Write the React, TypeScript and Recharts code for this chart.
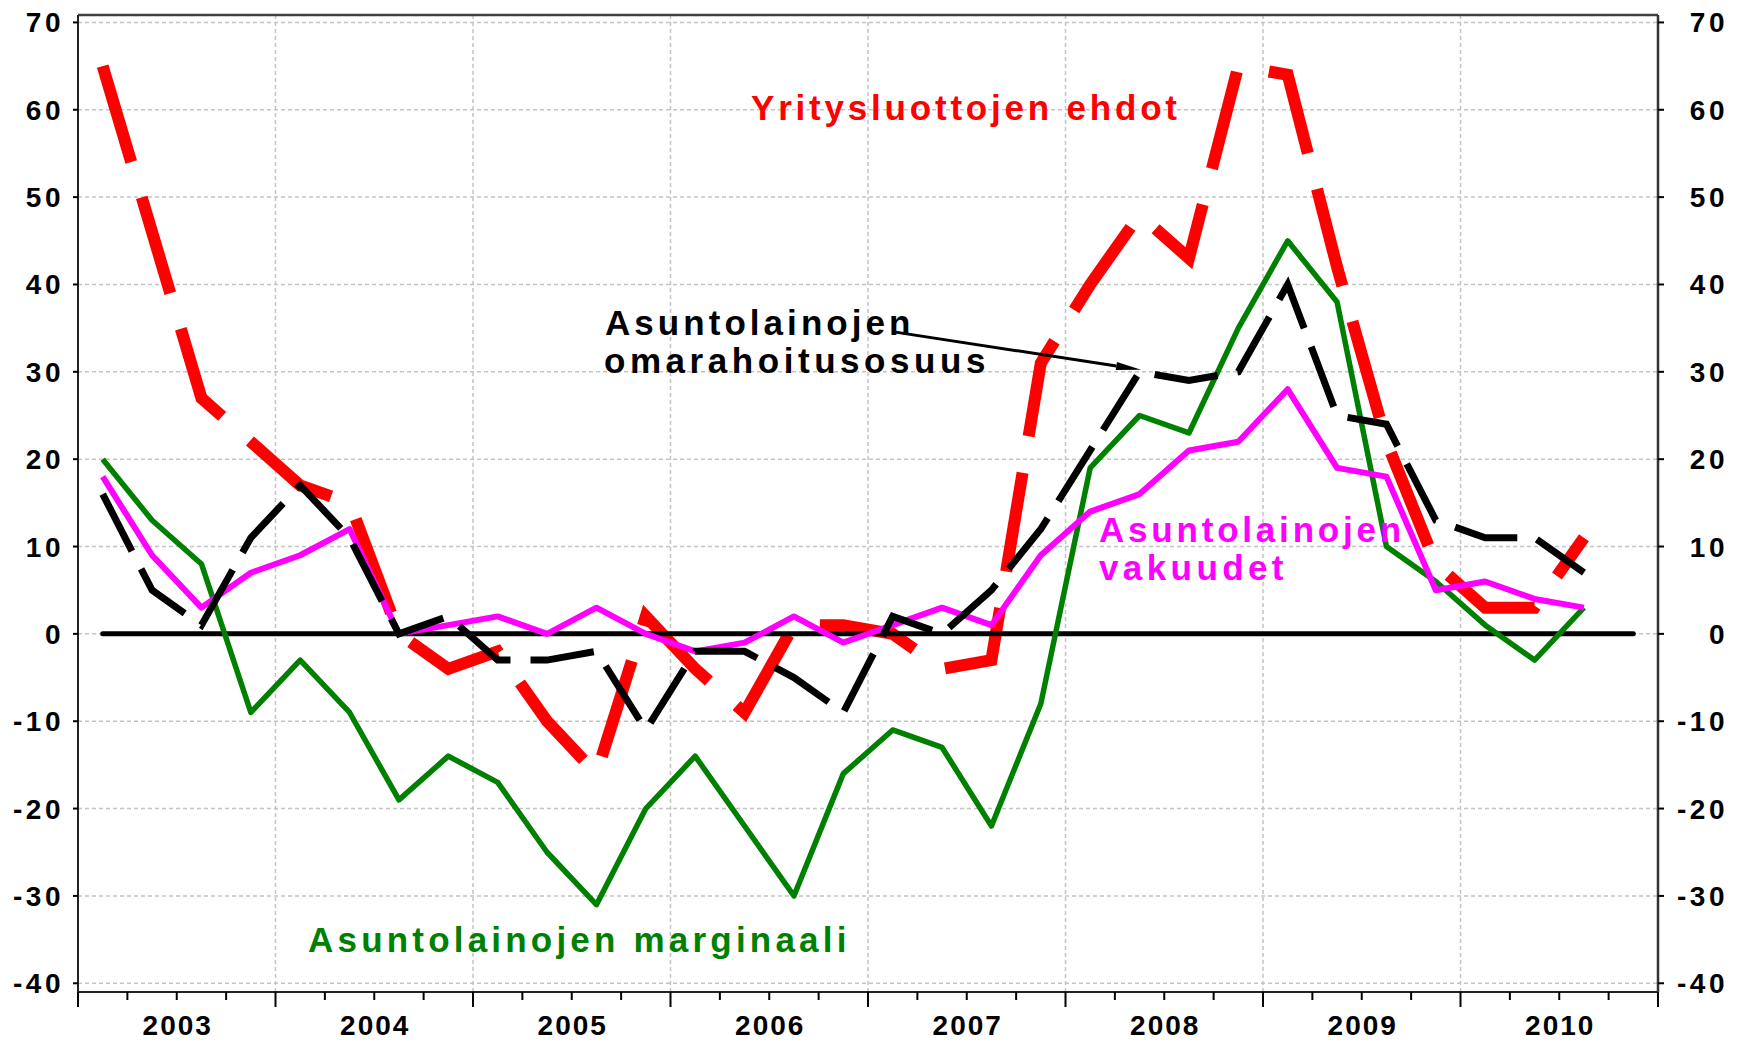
import React from 'react';
import { LineChart, Line, XAxis, YAxis, CartesianGrid, ReferenceLine } from 'recharts';

// quarterly survey balances, 2003Q1 - 2010Q3
const YEARS = [2003, 2004, 2005, 2006, 2007, 2008, 2009, 2010];
const QUARTERS = YEARS.flatMap((y) => ['Q1', 'Q2', 'Q3', 'Q4'].map((q) => `${y}${q}`));

const YRITYS = [65, 46, 27, 22, 17, 15, 0, -4, -2, -10, -16, 2, -4, -9, 1, 1, 0, -4, -3, 31, 40, 48, 43, 65, 64, 42, 22, 8, 3, 3, 11];
const OMARAHOITUS = [16, 5, 1, 11, 17, 11, 0, 2, -3, -3, -2, -11, -2, -2, -5, -9, 2, 0, 5, 12, 21, 30, 29, 30, 40, 25, 24, 13, 11, 11, 7];
const VAKUUDET = [18, 9, 3, 7, 9, 12, 0, 1, 2, 0, 3, 0, -2, -1, 2, -1, 1, 3, 1, 9, 14, 16, 21, 22, 28, 19, 18, 5, 6, 4, 3];
const MARGINAALI = [20, 13, 8, -9, -3, -9, -19, -14, -17, -25, -31, -20, -14, -22, -30, -16, -11, -13, -22, -8, 19, 25, 23, 35, 45, 38, 10, 6, 1, -3, 3];

const Y_TICKS = [-40, -30, -20, -10, 0, 10, 20, 30, 40, 50, 60, 70];
const Y_DOMAIN = [-41, 70.85];
const X_TICKS = [...QUARTERS.map((_, i) => i), QUARTERS.length];
const YEAR_LINES = [4, 8, 12, 16, 20, 24, 28];

// arrow from the black label to the dashed line (axis units)
const ARROW = [{ x: 16.49, y: 34.6 }, { x: 21.53, y: 30.24 }];

const LABELS = [
  { text: 'Yritysluottojen ehdot', x: 751, y: 120, color: '#ff0000', ls: 3.8 },
  { text: 'Asuntolainojen', x: 605, y: 335, color: '#000000', ls: 4.05 },
  { text: 'omarahoitusosuus', x: 604, y: 373, color: '#000000', ls: 4.55 },
  { text: 'Asuntolainojen', x: 1099, y: 542, color: '#ff00ff', ls: 3.8 },
  { text: 'vakuudet', x: 1099, y: 580, color: '#ff00ff', ls: 4.4 },
  { text: 'Asuntolainojen marginaali', x: 308, y: 952, color: '#008000', ls: 4.2 },
];

const FONT = "'Liberation Sans', Arial, sans-serif";

const data = QUARTERS.map((q, i) => ({
  q,
  x: i + 0.5,
  yritys: YRITYS[i] ?? null,
  omarahoitus: OMARAHOITUS[i] ?? null,
  vakuudet: VAKUUDET[i] ?? null,
  marginaali: MARGINAALI[i] ?? null,
  zero: 0,
}));

const QuarterTick = (props: any) => {
  const { x, y, payload } = props;
  const v = payload.value;
  const major = v % 4 === 0;
  const year = v % 4 === 2 ? YEARS[(v - 2) / 4] : null;
  return (
    <g>
      <line x1={x} y1={y} x2={x} y2={y + (major ? 15 : 8)} stroke="#000" strokeWidth={2} />
      {year && (
        <text x={x + 1} y={y + 43} textAnchor="middle" fontFamily={FONT} fontWeight="bold" fontSize={28} letterSpacing={2} fill="#000">
          {year}
        </text>
      )}
    </g>
  );
};

const LeftTick = (props: any) => {
  const { x, y, payload } = props;
  return (
    <text x={x - 9} y={y + 10} textAnchor="end" fontFamily={FONT} fontWeight="bold" fontSize={28} letterSpacing={3.5} fill="#000">
      {payload.value}
    </text>
  );
};

const RightTick = (props: any) => {
  const { x, y, payload } = props;
  return (
    <text x={x + 64} y={y + 10} textAnchor="end" fontFamily={FONT} fontWeight="bold" fontSize={28} letterSpacing={3.5} fill="#000">
      {payload.value}
    </text>
  );
};

const ArrowShape = (props: any) => {
  const { x1, y1, x2, y2 } = props;
  const a = Math.atan2(y2 - y1, x2 - x1);
  const len = 25;
  const half = 4;
  const bx = x2 - len * Math.cos(a);
  const by = y2 - len * Math.sin(a);
  const px = -Math.sin(a) * half;
  const py = Math.cos(a) * half;
  return (
    <g>
      <line x1={x1} y1={y1} x2={bx} y2={by} stroke="#000" strokeWidth={3} />
      <polygon points={`${x2},${y2} ${bx + px},${by + py} ${bx - px},${by - py}`} fill="#000" />
    </g>
  );
};

const App: React.FC = () => {
  return (
    <div style={{ position: 'absolute', left: 0, top: 0, width: 1743, height: 1040, background: '#fff' }}>
      <LineChart width={1743} height={1040} data={data} margin={{ top: 15, right: 5, bottom: 8, left: 8 }}>
        <CartesianGrid yAxisId="left" vertical={false} stroke="#c4c4c4" strokeWidth={1.5} strokeDasharray="4 3" />
        <XAxis
          dataKey="x"
          type="number"
          domain={[0, 32]}
          ticks={X_TICKS}
          interval={0}
          allowDataOverflow
          height={40}
          tickSize={0}
          tickMargin={0}
          tickLine={false}
          tick={<QuarterTick />}
          axisLine={{ stroke: '#222', strokeWidth: 2 }}
        />
        <YAxis
          yAxisId="left"
          domain={Y_DOMAIN}
          ticks={Y_TICKS}
          interval={0}
          allowDataOverflow
          width={70}
          tickSize={5}
          tickMargin={0}
          tickLine={{ stroke: '#000', strokeWidth: 2 }}
          tick={<LeftTick />}
          axisLine={{ stroke: '#222', strokeWidth: 2 }}
        />
        <YAxis
          yAxisId="right"
          orientation="right"
          domain={Y_DOMAIN}
          ticks={Y_TICKS}
          interval={0}
          allowDataOverflow
          width={80}
          tickSize={6}
          tickMargin={0}
          tickLine={{ stroke: '#000', strokeWidth: 2 }}
          tick={<RightTick />}
          axisLine={{ stroke: '#333', strokeWidth: 2.5 }}
        />
        {YEAR_LINES.map((v) => (
          <ReferenceLine key={v} yAxisId="left" x={v} stroke="#c4c4c4" strokeWidth={1.5} strokeDasharray="4 3" />
        ))}
        <ReferenceLine yAxisId="left" y={Y_DOMAIN[1]} stroke="#404040" strokeWidth={2.5} />

        <Line yAxisId="left" dataKey="yritys" type="linear" stroke="#ff0000" strokeWidth={12} strokeDasharray="100 37" strokeLinejoin="miter" dot={false} activeDot={false} isAnimationActive={false} />
        <Line yAxisId="right" dataKey="zero" type="linear" stroke="#000" strokeWidth={5} strokeLinecap="round" dot={false} activeDot={false} isAnimationActive={false} />
        <Line yAxisId="left" dataKey="marginaali" type="linear" stroke="#008000" strokeWidth={5.5} strokeLinejoin="round" dot={false} activeDot={false} isAnimationActive={false} />
        <Line yAxisId="left" dataKey="vakuudet" type="linear" stroke="#ff00ff" strokeWidth={6} strokeLinejoin="round" dot={false} activeDot={false} isAnimationActive={false} />
        <Line yAxisId="left" dataKey="omarahoitus" type="linear" stroke="#000" strokeWidth={7} strokeDasharray="64 20" strokeLinejoin="miter" dot={false} activeDot={false} isAnimationActive={false} />

        <ReferenceLine yAxisId="left" segment={ARROW} shape={<ArrowShape />} />
      </LineChart>
      <svg width={1743} height={1040} style={{ position: 'absolute', left: 0, top: 0, pointerEvents: 'none' }}>
        {LABELS.map((l, i) => (
          <text key={i} x={l.x} y={l.y} fill={l.color} fontFamily={FONT} fontWeight="bold" fontSize={35} letterSpacing={l.ls}>
            {l.text}
          </text>
        ))}
      </svg>
    </div>
  );
};

export default App;
